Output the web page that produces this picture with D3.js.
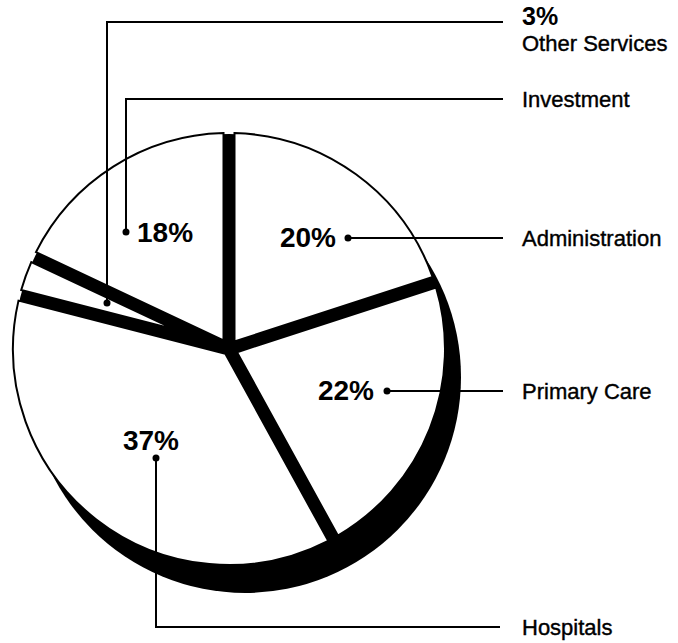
<!DOCTYPE html>
<html>
<head>
<meta charset="utf-8">
<script src="https://cdn.jsdelivr.net/npm/d3@7"></script>
<style>
  body { margin: 0; background: #fff; }
  text { font-family: "Liberation Sans", Arial, Helvetica, sans-serif; fill: #000; }
</style>
</head>
<body>
<div id="chart"></div>
<script>
// slices, clockwise from 12 o'clock
var categories = ["Administration", "Primary Care", "Hospitals", "Other Services", "Investment"];
var shares = [20, 22, 37, 3, 18];
var shareLabels = ["20%", "22%", "37%", "3%", "18%"];

var width = 678,
height = 643,
cx = 229,
cy = 349,
radius = 216,
gap = 11,
shadow_dx = 16,
shadow_dy = 28,
label_x = 522,
line_end = 503;

// where each callout sits (dot, leader route, percent text, name baseline)
var callouts = {
	"Administration": { dot: [348, 238], route: [[348, 238], [line_end, 238]], pct: [336, 247, "end"], nameY: 246 },
	"Primary Care": { dot: [387, 391], route: [[387, 391], [line_end, 391]], pct: [374, 400, "end"], nameY: 399 },
	"Hospitals": { dot: [156, 458], route: [[156, 458], [156, 627], [line_end - 3, 627]], pct: [151, 450, "middle"], nameY: 635 },
	"Other Services": { dot: [107, 303], route: [[107, 303], [107, 22], [line_end, 22]], pct: [label_x, 25, "start"], nameY: 51, pctSize: 25 },
	"Investment": { dot: [126, 232], route: [[126, 232], [126, 99], [line_end, 99]], pct: [137, 242, "start"], nameY: 107 }
};

var data = categories.map(function(c, i) {
	return { name: c, value: shares[i], label: shareLabels[i] };
});

var svg = d3.select("#chart")
.append("svg")
.attr("width", width)
.attr("height", height);

var pie = d3.pie()
.sort(null)
.value(function(d) { return d.value; });

var arcs = pie(data);

// wedge with parallel-sided gaps: both straight edges pushed in by gap/2
function slicePath(a) {
	var h = gap / 2;
	var span = a.endAngle - a.startAngle;
	var mid = (a.startAngle + a.endAngle) / 2;
	var apexR = h / Math.sin(span / 2);
	var a0 = a.startAngle + Math.asin(h / radius);
	var a1 = a.endAngle - Math.asin(h / radius);
	var p = d3.path();
	p.moveTo(Math.sin(mid) * apexR, -Math.cos(mid) * apexR);
	p.lineTo(Math.sin(a0) * radius, -Math.cos(a0) * radius);
	p.arc(0, 0, radius, a0 - Math.PI / 2, a1 - Math.PI / 2, false);
	p.closePath();
	return p.toString();
}

var g = svg.append("g")
.attr("transform", "translate(" + cx + "," + cy + ")");

// drop shadow + black behind the gaps
g.append("circle")
.attr("cx", shadow_dx)
.attr("cy", shadow_dy)
.attr("r", radius)
.attr("fill", "#000");

g.append("circle")
.attr("r", radius - 1)
.attr("fill", "#000");

g.selectAll("path.slice")
.data(arcs)
.enter()
.append("path")
.attr("class", "slice")
.attr("d", slicePath)
.attr("fill", "#fff")
.attr("stroke", "#000")
.attr("stroke-width", 2)
.attr("stroke-linejoin", "miter");

// leader lines
var line = d3.line();

svg.selectAll("path.leader")
.data(data)
.enter()
.append("path")
.attr("class", "leader")
.attr("d", function(d) { return line(callouts[d.name].route); })
.attr("fill", "none")
.attr("stroke", "#000")
.attr("stroke-width", 2);

svg.selectAll("circle.dot")
.data(data)
.enter()
.append("circle")
.attr("class", "dot")
.attr("cx", function(d) { return callouts[d.name].dot[0]; })
.attr("cy", function(d) { return callouts[d.name].dot[1]; })
.attr("r", 3.5)
.attr("fill", "#000");

// percent labels
svg.selectAll("text.pct")
.data(data)
.enter()
.append("text")
.attr("class", "pct")
.text(function(d) { return d.label; })
.attr("x", function(d) { return callouts[d.name].pct[0]; })
.attr("y", function(d) { return callouts[d.name].pct[1]; })
.attr("text-anchor", function(d) { return callouts[d.name].pct[2]; })
.attr("font-size", function(d) { return (callouts[d.name].pctSize || 28) + "px"; })
.attr("font-weight", "bold");

// category names on the right
svg.selectAll("text.name")
.data(data)
.enter()
.append("text")
.attr("class", "name")
.text(function(d) { return d.name; })
.attr("x", label_x)
.attr("y", function(d) { return callouts[d.name].nameY; })
.attr("font-size", "22px")
.attr("stroke", "#000")
.attr("stroke-width", 0.4);
</script>
</body>
</html>
